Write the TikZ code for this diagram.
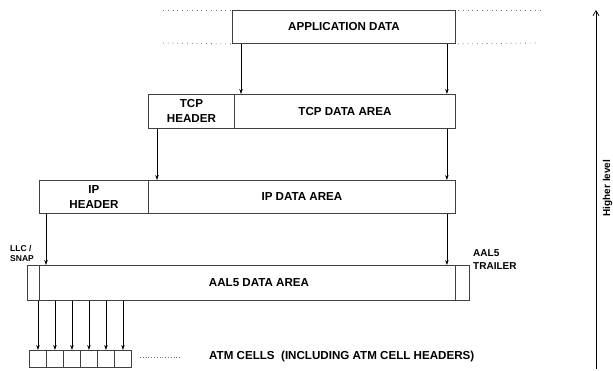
\documentclass[tikz,border=0pt]{standalone}
\usepackage{fontspec}
\setmainfont{Liberation Sans}
\usetikzlibrary{arrows.meta,calc}
\begin{document}
\begin{tikzpicture}[x=1pt,y=-1pt,
  box/.style={draw=black!75,line width=0.9pt,inner sep=0pt,anchor=north west,
    font=\fontsize{11.6}{15}\selectfont\bfseries,align=center},
  txt/.style={inner sep=0pt,font=\fontsize{11.6}{13.5}\selectfont\bfseries},
  small/.style={inner sep=0pt,font=\fontsize{10}{13}\selectfont\bfseries,align=left},
  tiny/.style={inner sep=0pt,font=\fontsize{8.5}{10.5}\selectfont\bfseries,align=left},
  arr/.style={line width=0.7pt,-{Stealth[length=5pt,width=3.5pt]}},
  dots/.style={draw=black!55,line width=0.8pt,dash pattern=on 0.8pt off 4pt},
  fdots/.style={draw=black!55,line width=0.6pt,dash pattern=on 0.6pt off 2.2pt}]
\useasboundingbox (0,0) rectangle (613,371);
% application
\node[box,minimum width=223pt,minimum height=33pt] (app) at (232,10) {APPLICATION DATA};
% tcp
\node[box,minimum width=86pt,minimum height=34pt] (tcph) at (148,94) {TCP\\HEADER};
\node[box,minimum width=221pt,minimum height=34pt] (tcpd) at (234,94) {TCP DATA AREA};
% ip
\node[box,minimum width=109pt,minimum height=33pt] (iph) at (39,180) {IP\\HEADER};
\node[box,minimum width=307pt,minimum height=33pt] (ipd) at (148,180) {IP DATA AREA};
% aal5
\node[box,minimum width=12pt,minimum height=35pt] (llc) at (27,265) {};
\node[box,minimum width=416pt,minimum height=35pt] (aal) at (39,265) {};
\node[box,minimum width=14pt,minimum height=35pt] (trl) at (455,265) {};
\node[txt] (aaltxt) at (259,282.5) {AAL5 DATA AREA};
% cells
\foreach \i in {1,...,6}{
  \node[box,minimum width=17pt,minimum height=17pt] (c\i) at ({29+17*(\i-1)},350) {};
}
% labels
\node[tiny,anchor=south west] (llclab) at (10,262) {LLC /\\SNAP};
\node[small,anchor=north west] (trllab) at (473,249) {AAL5\\TRAILER};
\node[txt,anchor=west] (atmlab) at (209,357) {ATM CELLS\ \ (INCLUDING ATM CELL HEADERS)};
% dotted lines
\coordinate (d1) at (163,10);
\coordinate (d2) at (163,43);
\coordinate (d3) at (542,10);
\coordinate (d4) at (537,43);
\coordinate (d5) at (140,357);
\coordinate (d6) at (181,357);
\draw[dots] (d1) -- (app.north west);
\draw[dots] (d2) -- (app.south west);
\draw[dots] (app.north east) ++(2,0) -- (d3);
\draw[dots] (app.south east) ++(2,0) -- (d4);
\draw[fdots] (d5) -- (d6);
% arrows app -> tcp
\draw[arr] ([xshift=9pt]app.south west) -- ([xshift=9pt]app.south west |- tcpd.north);
\draw[arr] ([xshift=-9pt]app.south east) -- ([xshift=-9pt]app.south east |- tcpd.north);
% tcp -> ip
\draw[arr] ([xshift=9pt]tcph.south west) -- ([xshift=9pt]tcph.south west |- ipd.north);
\draw[arr] ([xshift=-9pt]tcpd.south east) -- ([xshift=-9pt]tcpd.south east |- ipd.north);
% ip -> aal
\draw[arr] ([xshift=7pt]iph.south west) -- ([xshift=7pt]iph.south west |- aal.north);
\draw[arr] ([xshift=-9pt]ipd.south east) -- ([xshift=-9pt]ipd.south east |- aal.north);
% aal -> cells
\foreach \i in {1,...,6}{
  \draw[arr] (c\i.north |- aal.south) -- (c\i.north);
}
% higher level
\coordinate (hb) at (596,369);
\coordinate (ht) at (596,10);
\draw[line width=0.7pt,-{Straight Barb[length=5pt,width=6pt]}] (hb) -- (ht);
\node[inner sep=0pt,font=\fontsize{10}{12}\selectfont\bfseries,rotate=90] (hl) at (607.5,188) {Higher level};
\end{tikzpicture}
\end{document}
